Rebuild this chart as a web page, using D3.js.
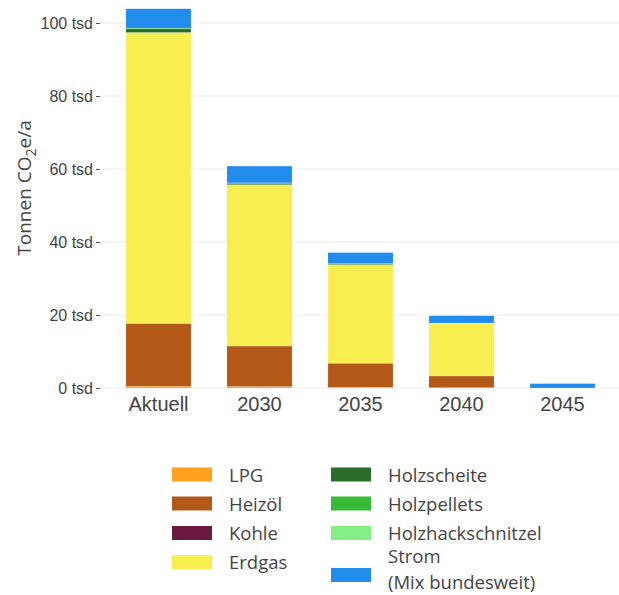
<!DOCTYPE html>
<html><head><meta charset="utf-8">
<script src="https://cdn.jsdelivr.net/npm/d3@7"></script>
<style>body{margin:0;background:#fff}svg{display:block;font-family:"Open Sans","Noto Sans",sans-serif}</style>
</head><body><svg id="c" width="619" height="595"></svg>
<script>
const categories = ["Aktuell","2030","2035","2040","2045"];
const seriesNames = ["LPG","Heizöl","Kohle","Erdgas","Holzscheite","Holzpellets","Holzhackschnitzel","Strom (Mix bundesweit)"];
const seriesColors = ["#FFA01E","#B35918","#6A1A3E","#F9EE50","#2B6E2B","#37BB37","#86EE86","#218CEB"];
const LPG = [0.5,0.4,0.2,0.1,0];
const Heizoel = [17.2,11.1,6.6,3.2,0];
const Kohle = [0,0,0,0,0];
const Erdgas = [79.7,44.2,27.0,14.5,0];
const Holzscheite = [1.0,0.4,0.2,0,0];
const Holzpellets = [0.2,0.1,0.1,0,0];
const Holzhackschnitzel = [0,0,0,0,0];
const Strom = [5.3,4.6,3.0,2.0,1.2];
const yTicks = [0,20,40,60,80,100];

const seriesValues = [LPG,Heizoel,Kohle,Erdgas,Holzscheite,Holzpellets,Holzhackschnitzel,Strom];
const rows = categories.map((c,i)=>{const r={cat:c};seriesNames.forEach((s,j)=>r[s]=seriesValues[j][i]);return r;});
const stack = d3.stack().keys(seriesNames)(rows);

const svg = d3.select("#c");
const x = d3.scaleBand().domain(categories).range([108,613]).paddingInner(0.355).paddingOuter(0.1775);
const y = d3.scaleLinear().domain([0,100]).range([388,23]);

svg.append("g").selectAll("line").data(yTicks).join("line")
  .attr("x1",101).attr("x2",619).attr("y1",d=>y(d)).attr("y2",d=>y(d))
  .attr("stroke","#ebebeb").attr("stroke-width",1);

const yAxis = svg.append("g").attr("transform","translate(100,0)")
  .call(d3.axisLeft(y).tickValues(yTicks).tickSize(4).tickPadding(3).tickFormat(d=>d+" tsd"));
yAxis.select(".domain").remove();
yAxis.selectAll("line").attr("stroke","#555");
yAxis.selectAll("text").attr("fill","#444").style("font-size","16px");

svg.append("g").selectAll("g").data(stack).join("g")
  .attr("fill",(d,i)=>seriesColors[i])
  .selectAll("rect").data(d=>d).join("rect")
  .attr("x",d=>x(d.data.cat)).attr("width",x.bandwidth())
  .attr("y",d=>y(d[1])).attr("height",d=>Math.max(0,y(d[0])-y(d[1])))
  .attr("stroke","rgba(255,255,255,0.35)").attr("stroke-width",0.5);

const xAxis = svg.append("g").attr("transform","translate(0,388)")
  .call(d3.axisBottom(x).tickSize(0).tickPadding(9));
xAxis.select(".domain").remove();
xAxis.selectAll("text").attr("fill","#444").style("font-size","20px");

svg.append("text").attr("transform","translate(31,188) rotate(-90)")
  .attr("text-anchor","middle").attr("fill","#444").style("font-size","19px")
  .html('Tonnen CO<tspan dy="5" font-size="14px">2</tspan><tspan dy="-5">e/a</tspan>');

const legendPos = [[172,474.5],[172,503.5],[172,533],[172,562],[331,474.5],[331,503.5],[331,533],[331,575]];
const lg = svg.append("g").selectAll("g").data(seriesNames).join("g")
  .attr("transform",(d,i)=>`translate(${legendPos[i][0]},${legendPos[i][1]})`);
lg.append("rect").attr("x",0).attr("y",-7).attr("width",40).attr("height",14)
  .attr("fill",(d,i)=>seriesColors[i]);
lg.each(function(d,i){
  const t = d3.select(this).append("text").attr("x",57).attr("fill","#444").style("font-size","18.5px");
  if(i===7){
    t.append("tspan").attr("x",57).attr("y",-12).text("Strom");
    t.append("tspan").attr("x",57).attr("y",13.5).text("(Mix bundesweit)");
  } else {
    t.attr("y",7).text(d);
  }
});
</script></body></html>
